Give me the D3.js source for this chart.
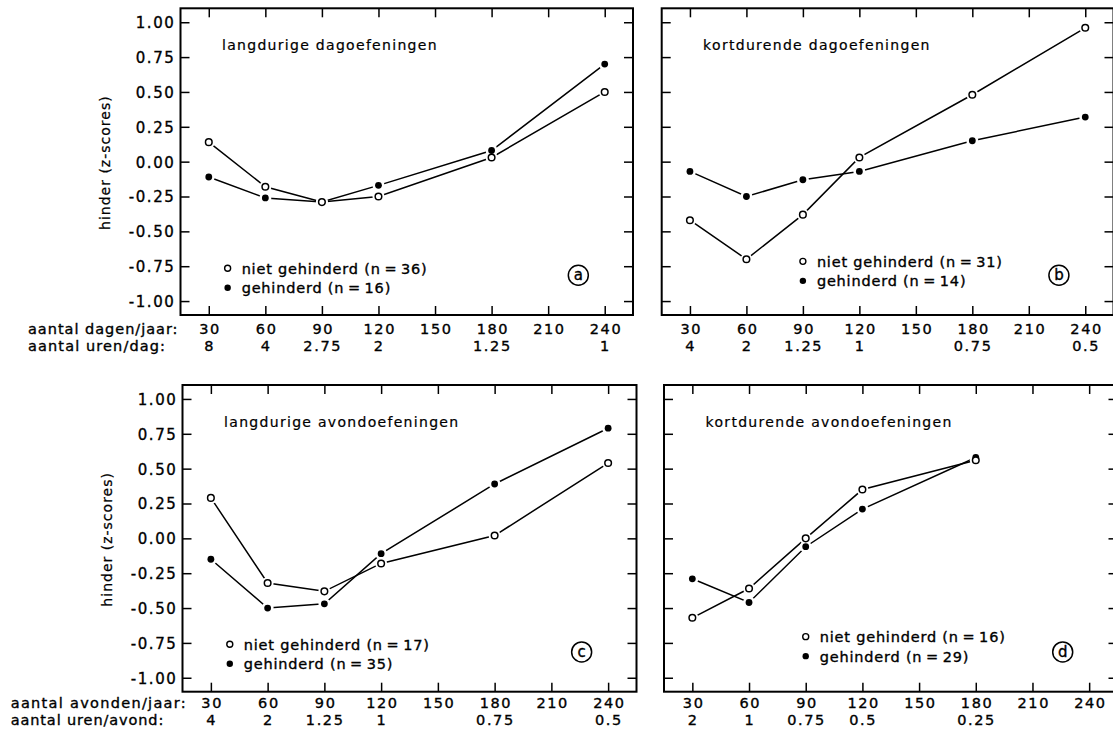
<!DOCTYPE html>
<html>
<head>
<meta charset="utf-8">
<script src="https://cdn.jsdelivr.net/npm/d3@7"></script>
<style>
  html, body { margin: 0; padding: 0; background: #fff; }
  svg { display: block; }
</style>
</head>
<body>
<svg id="chart" width="1113" height="731"></svg>
<script>
// ---- axis ticks ----
const xTicks = [30, 60, 90, 120, 150, 180, 210, 240];
const yTicks = [-1, -0.75, -0.5, -0.25, 0, 0.25, 0.5, 0.75, 1];

// ---- measured frequencies (per jaar) ----
const freqFull = [30, 60, 90, 120, 180, 240];
const freqAvondKort = [30, 60, 90, 120, 180];

// ---- second label row: duration per day / evening ----
const urenDagLang = ["8", "4", "2.75", "2", "1.25", "1"];
const urenDagKort = ["4", "2", "1.25", "1", "0.75", "0.5"];
const urenAvondLang = ["4", "2", "1.25", "1", "0.75", "0.5"];
const urenAvondKort = ["2", "1", "0.75", "0.5", "0.25"];

// ---- hinder (z-scores) ----
const dagLangNiet = [0.14, -0.18, -0.29, -0.25, 0.03, 0.50];
const dagLangGeh = [-0.11, -0.26, -0.29, -0.17, 0.08, 0.70];
const dagKortNiet = [-0.42, -0.70, -0.38, 0.03, 0.48, 0.96];
const dagKortGeh = [-0.07, -0.25, -0.13, -0.07, 0.15, 0.32];
const avondLangNiet = [0.29, -0.32, -0.38, -0.18, 0.02, 0.54];
const avondLangGeh = [-0.15, -0.50, -0.47, -0.11, 0.39, 0.79];
const avondKortNiet = [-0.57, -0.36, 0.00, 0.35, 0.56];
const avondKortGeh = [-0.29, -0.46, -0.06, 0.21, 0.58];

// ---- texts ----
const titles = ["langdurige dagoefeningen", "kortdurende dagoefeningen",
                "langdurige avondoefeningen", "kortdurende avondoefeningen"];
const panelLetters = ["a", "b", "c", "d"];
const nNiet = [36, 31, 17, 16];
const nGeh = [16, 14, 35, 29];
const yTitle = "hinder (z-scores)";
const rowLabelsDag = ["aantal dagen/jaar:", "aantal uren/dag:"];
const rowLabelsAvond = ["aantal avonden/jaar:", "aantal uren/avond:"];

const FONT = "'DejaVu Sans', Verdana, sans-serif";
const svg = d3.select("#chart");
svg.append("rect").attr("width", 1113).attr("height", 731).attr("fill", "#fff");

const panels = [
  { box: [180.5, 633, 8.3, 315], freq: freqFull, niet: dagLangNiet, geh: dagLangGeh,
    uren: urenDagLang, yLabels: true, legendX: 40, legendY: -0.765, mainDy: 19, subDy: 36 },
  { box: [661.7, 1113.5, 8.3, 315], freq: freqFull, niet: dagKortNiet, geh: dagKortGeh,
    uren: urenDagKort, yLabels: false, legendX: 90, legendY: -0.715, mainDy: 19, subDy: 36 },
  { box: [182.5, 636.5, 385, 691.7], freq: freqFull, niet: avondLangNiet, geh: avondLangGeh,
    uren: urenAvondLang, yLabels: true, legendX: 40, legendY: -0.76, mainDy: 16.5, subDy: 33 },
  { box: [664, 1117.5, 385, 691.7], freq: freqAvondKort, niet: avondKortNiet, geh: avondKortGeh,
    uren: urenAvondKort, yLabels: false, legendX: 90, legendY: -0.705, mainDy: 16.5, subDy: 33 }
];

function txt(sel, size, ls, weight) {
  return sel.attr("font-family", FONT).attr("font-size", size)
    .attr("letter-spacing", ls).attr("fill", "#000")
    .attr("stroke", "#000").attr("stroke-width", weight == null ? 0.35 : weight);
}

panels.forEach((p, i) => {
  const [x0, x1, y0, y1] = p.box;
  const x = d3.scaleLinear().domain([15, 255]).range([x0, x1]);
  const y = d3.scaleLinear().domain([-1.1, 1.1]).range([y1, y0]);
  const g = svg.append("g");

  // inward ticks on all four sides
  const styleAxis = a => {
    a.select(".domain").remove();
    a.selectAll(".tick line").attr("stroke", "#000").attr("stroke-width", 1.5);
  };
  const bottom = g.append("g").attr("transform", `translate(0,${y1})`)
    .call(d3.axisBottom(x).tickValues(xTicks).tickSizeInner(-9).tickSizeOuter(0)
      .tickFormat(d => String(d)));
  styleAxis(bottom);
  txt(bottom.selectAll(".tick text"), 14.5, 1.6).attr("y", p.mainDy).attr("dy", 0).attr("dx", 0.8);

  const top = g.append("g").attr("transform", `translate(0,${y0})`)
    .call(d3.axisTop(x).tickValues(xTicks).tickSizeInner(-9).tickSizeOuter(0).tickFormat(""));
  styleAxis(top);

  const left = g.append("g").attr("transform", `translate(${x0},0)`)
    .call(d3.axisLeft(y).tickValues(yTicks).tickSizeInner(-9).tickSizeOuter(0).tickPadding(5)
      .tickFormat(d => p.yLabels ? d.toFixed(2) : ""));
  styleAxis(left);
  txt(left.selectAll(".tick text"), 15, 1.6).attr("dy", "0.36em");

  const right = g.append("g").attr("transform", `translate(${x1},0)`)
    .call(d3.axisRight(y).tickValues(yTicks).tickSizeInner(-9).tickSizeOuter(0).tickFormat(""));
  styleAxis(right);

  // frame
  g.append("rect").attr("x", x0).attr("y", y0).attr("width", x1 - x0).attr("height", y1 - y0)
    .attr("fill", "none").attr("stroke", "#000").attr("stroke-width", 2);

  // second label row (hours)
  txt(g.append("g").selectAll("text").data(p.uren).join("text"), 14.5, 1.6)
    .attr("x", (d, j) => x(p.freq[j]) + 0.8)
    .attr("y", y1 + p.subDy)
    .attr("text-anchor", "middle")
    .text(d => d);

  // title
  txt(g.append("text"), 14, 1.3, 0.2)
    .attr("x", x(37)).attr("y", y0 + 41.5).text(titles[i]);

  // series lines
  const line = d3.line().x((d, j) => x(p.freq[j])).y(d => y(d));
  [p.niet, p.geh].forEach(s => {
    g.append("path").datum(s).attr("d", line)
      .attr("fill", "none").attr("stroke", "#000").attr("stroke-width", 1.5);
  });
  // white gap round every marker
  [p.niet, p.geh].forEach(s => {
    g.append("g").selectAll("circle").data(s).join("circle")
      .attr("cx", (d, j) => x(p.freq[j])).attr("cy", d => y(d))
      .attr("r", 6).attr("fill", "#fff");
  });
  g.append("g").selectAll("circle").data(p.geh).join("circle")
    .attr("cx", (d, j) => x(p.freq[j])).attr("cy", d => y(d))
    .attr("r", 3.4).attr("fill", "#000");
  g.append("g").selectAll("circle").data(p.niet).join("circle")
    .attr("cx", (d, j) => x(p.freq[j])).attr("cy", d => y(d))
    .attr("r", 3.3).attr("fill", "#fff").attr("stroke", "#000").attr("stroke-width", 1.5);

  // legend
  const lx = x(p.legendX), ly1 = y(p.legendY), ly2 = ly1 + 19.5;
  g.append("circle").attr("cx", lx).attr("cy", ly1).attr("r", 3)
    .attr("fill", "#fff").attr("stroke", "#000").attr("stroke-width", 1.4);
  g.append("circle").attr("cx", lx).attr("cy", ly2).attr("r", 3.2).attr("fill", "#000");
  txt(g.append("text"), 14.5, 0.8).attr("x", lx + 14).attr("y", ly1 + 5.5)
    .text(`niet gehinderd (n\u2009=\u2009${nNiet[i]})`);
  txt(g.append("text"), 14.5, 0.8).attr("x", lx + 14).attr("y", ly2 + 5.5)
    .text(`gehinderd (n\u2009=\u2009${nGeh[i]})`);

  // circled panel letter
  const cx = x(226), cy = y(-0.815);
  g.append("circle").attr("cx", cx).attr("cy", cy).attr("r", 10)
    .attr("fill", "none").attr("stroke", "#000").attr("stroke-width", 1.5);
  txt(g.append("text"), 15, 0).attr("x", cx).attr("y", cy + 5)
    .attr("text-anchor", "middle").text(panelLetters[i]);

  // y-axis title on the left-hand panels
  if (p.yLabels) {
    txt(g.append("text"), 14, 1, 0.25)
      .attr("transform", `translate(${x0 - 71},${y(0) + 1}) rotate(-90)`)
      .attr("text-anchor", "middle").text(yTitle);
  }
});

// row captions under the left-hand x axes
const captions = [
  { lines: rowLabelsDag, x: 28, ys: [334, 351], widths: [149.5, 137] },
  { lines: rowLabelsAvond, x: 10.7, ys: [708.2, 724.7], widths: [175, 152.6] }
];
captions.forEach(c => {
  c.lines.forEach((t, j) => {
    txt(svg.append("text"), 14.5, 0).attr("x", c.x).attr("y", c.ys[j])
      .attr("textLength", c.widths[j]).attr("lengthAdjust", "spacing").text(t);
  });
});
</script>
</body>
</html>
